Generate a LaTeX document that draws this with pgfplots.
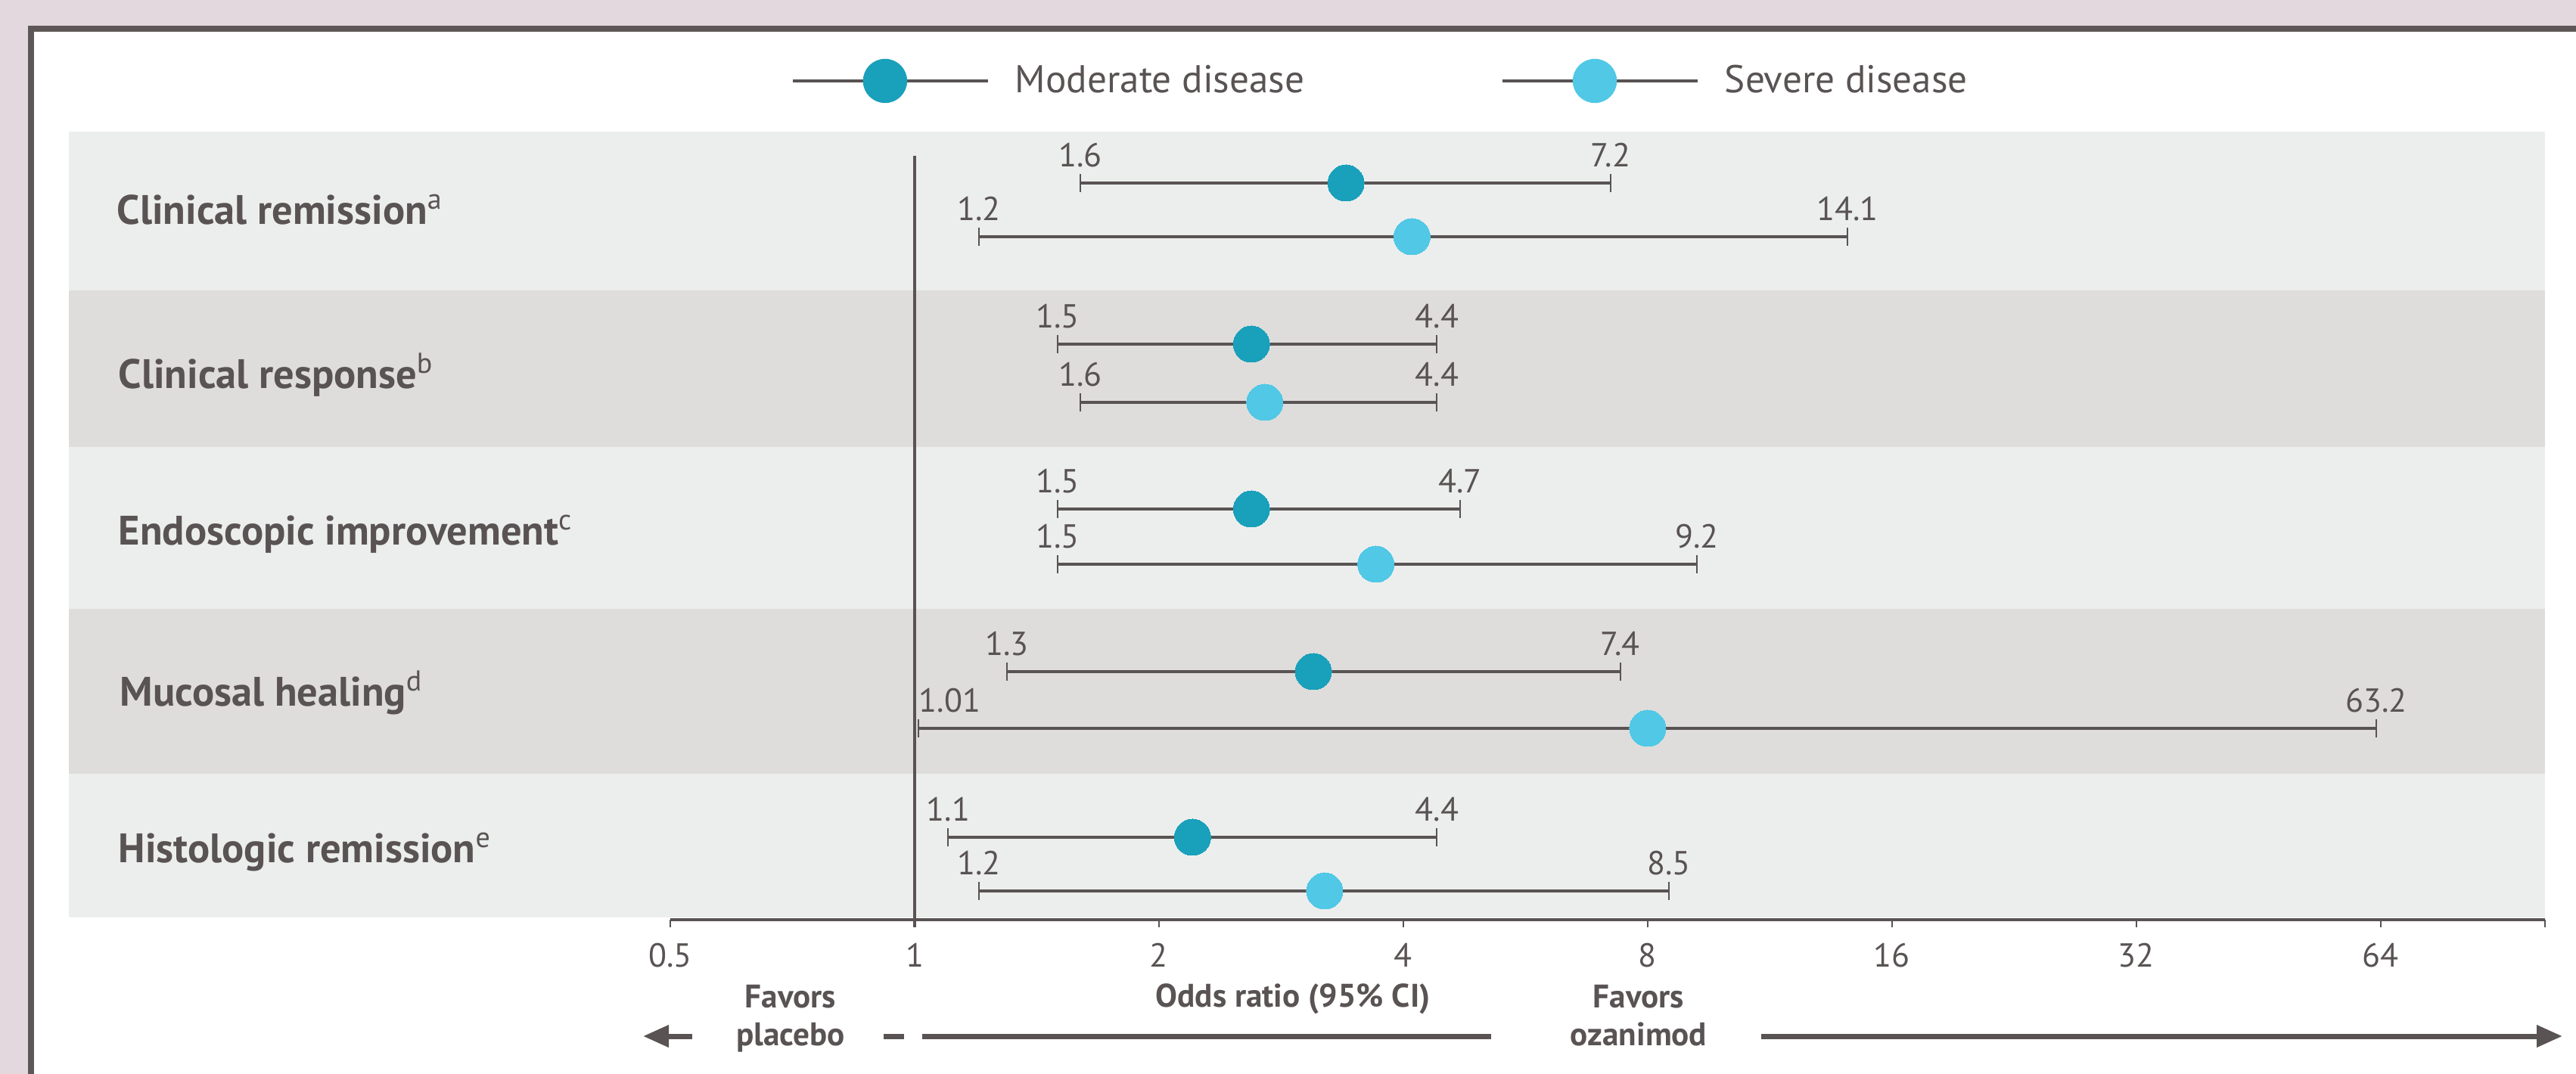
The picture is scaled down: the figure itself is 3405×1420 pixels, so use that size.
\documentclass[border=0pt]{standalone}
\usepackage{fontspec}
\setmainfont{PT Sans}
\usepackage{pgfplots}
\usepackage{pgfplotstable}
\pgfplotsset{compat=1.18}
\usetikzlibrary{arrows.meta}

\definecolor{outerbg}{HTML}{E2D8DE}
\definecolor{framec}{HTML}{5E5757}
\definecolor{txt}{HTML}{595353}
\definecolor{bandA}{HTML}{ECEEED}
\definecolor{bandB}{HTML}{DEDDDB}
\definecolor{moder}{HTML}{19A0BB}
\definecolor{sever}{HTML}{50C8E6}

\newcommand{\cifont}{\fontsize{11}{13}\selectfont}
\newcommand{\rowfont}{\fontsize{13.6}{15}\selectfont\bfseries}
\newcommand{\botfont}{\fontsize{10.8}{12.5}\selectfont\bfseries}
\newcommand{\note}[1]{\textsuperscript{\mdseries #1}}

% point estimates (odds ratio) and vertical slot of each row
\pgfplotstableread{
est y
3.4 1178
2.6 965
2.6 747
3.1 532
2.2 313
}\moderate
\pgfplotstableread{
est y
4.1 1107
2.7 888
3.7 674
8.0 457
3.2 242
}\severe

\begin{document}
\begin{tikzpicture}
\begin{scope}[x=0.25pt,y=-0.25pt]
  % page background and frame
  \fill[outerbg] (0,0) rectangle (3405,1420);
  \fill[framec] (37,34) rectangle (3405,1420);
  \fill[white] (45,42) rectangle (3405,1420);
  % alternating row bands
  \fill[bandA] (91,174) rectangle (3364,384);
  \fill[bandB] (91,384) rectangle (3364,591);
  \fill[bandA] (91,591) rectangle (3364,805);
  \fill[bandB] (91,805) rectangle (3364,1023);
  \fill[bandA] (91,1023) rectangle (3364,1213);
  % outcome labels
  \begin{scope}[every node/.style={anchor=base west, inner sep=0pt, text=txt, font=\rowfont}]
    \node at (154,297) {Clinical remission\note{a}};
    \node at (156,514) {Clinical response\note{b}};
    \node at (156,721) {Endoscopic improvement\note{c}};
    \node at (158,934) {Mucosal healing\note{d}};
    \node at (156,1141) {Histologic remission\note{e}};
  \end{scope}
  % axis caption and direction arrows
  \begin{scope}[every node/.style={anchor=base, inner sep=0pt, text=txt, font=\botfont, align=center}]
    \node at (1709,1332) {Odds ratio (95\% CI)};
    \node at (1045,1382) {Favors\\placebo};
    \node at (2166,1382) {Favors\\ozanimod};
  \end{scope}
  \draw[txt, line width=1.75pt, -{Triangle[length=8.5pt,width=7pt]}] (915,1370) -- (850,1370);
  \fill[txt] (1168,1366.5) rectangle (1195,1373.5);
  \draw[txt, line width=1.75pt] (1219,1370) -- (1971,1370);
  \draw[txt, line width=1.75pt, -{Triangle[length=8.5pt,width=7pt]}] (2328,1370) -- (3387,1370);
\end{scope}

\begin{axis}[
  at={(221.5pt,-304pt)}, anchor=south west,
  scale only axis, width=619.5pt, height=260.5pt,
  xmode=log, xmin=0.5, xmax=102, ymin=204, ymax=1246,
  axis x line=bottom, axis y line=none,
  axis line style={txt, line width=1pt, -},
  xtick={0.5,1,2,4,8,16,32,64},
  xticklabels={0.5,1,2,4,8,16,32,64},
  extra x ticks={102}, extra x tick labels={},
  tick align=outside, major tick length=2.5pt,
  tick style={txt, line width=0.6pt},
  xticklabel style={font=\cifont, text=txt, inner sep=0pt, anchor=north, yshift=-5pt},
  clip=false,
  ci/.style={draw=txt, line width=0.9pt, mark=|, mark size=3pt,
    mark options={line width=0.5pt, draw=txt}, forget plot,
    point meta=explicit symbolic, nodes near coords={\pgfplotspointmeta},
    every node near coord/.append style={font=\cifont, text=txt, anchor=south, inner sep=0pt, yshift=5pt}},
  legend style={at={(0.0646,1.0643)}, anchor=west, draw=none, fill=none,
    inner sep=0pt, outer sep=0pt, nodes={inner sep=0pt},
    font=\fontsize{12.8}{15}\selectfont, text=txt, cells={anchor=west},
    /tikz/every odd column/.append style={column sep=8.5pt},
    /tikz/every even column/.append style={column sep=65pt}},
  legend columns=2,
]
  % null line at OR = 1
  \draw[txt, line width=0.8pt] (axis cs:1,1214) -- (axis cs:1,194);

  % 95% confidence intervals
  \addplot[ci] coordinates {(1.6,1178) [1.6] (7.2,1178) [7.2]};
  \addplot[ci] coordinates {(1.2,1107) [1.2] (14.1,1107) [14.1]};
  \addplot[ci] coordinates {(1.5,965) [1.5] (4.4,965) [4.4]};
  \addplot[ci] coordinates {(1.6,888) [1.6] (4.4,888) [4.4]};
  \addplot[ci] coordinates {(1.5,747) [1.5] (4.7,747) [4.7]};
  \addplot[ci] coordinates {(1.5,674) [1.5] (9.2,674) [9.2]};
  \addplot[ci] coordinates {(1.3,532) [1.3] (7.4,532) [7.4]};
  \addplot[ci, nodes near coords=\empty] coordinates {(1.01,457) (63.2,457)};
  \addplot[draw=none, mark=none, forget plot, point meta=explicit symbolic,
    nodes near coords={\pgfplotspointmeta},
    every node near coord/.append style={font=\cifont, text=txt, anchor=south, inner sep=0pt, yshift=5pt}]
    coordinates {(63.2,457) [63.2]};
  \addplot[draw=none, mark=none, forget plot, point meta=explicit symbolic,
    nodes near coords={\pgfplotspointmeta},
    every node near coord/.append style={font=\cifont, text=txt, anchor=south, inner sep=0pt, yshift=5pt, xshift=10.5pt}]
    coordinates {(1.01,457) [1.01]};
  \addplot[ci] coordinates {(1.1,313) [1.1] (4.4,313) [4.4]};
  \addplot[ci] coordinates {(1.2,242) [1.2] (8.5,242) [8.5]};

  % point estimates
  \addplot[only marks, mark=*, mark size=6pt,
    mark options={fill=moder, draw=moder, line width=0pt},
    legend image code/.code={\draw[txt, line width=0.9pt] (0pt,0pt) -- (64.5pt,0pt);
      \fill[moder] (30.5pt,0pt) circle (7.1pt);}]
    table[x=est, y=y] {\moderate};
  \addlegendentry{Moderate disease}
  \addplot[only marks, mark=*, mark size=6pt,
    mark options={fill=sever, draw=sever, line width=0pt},
    legend image code/.code={\draw[txt, line width=0.9pt] (0pt,0pt) -- (64.5pt,0pt);
      \fill[sever] (30.5pt,0pt) circle (7.1pt);}]
    table[x=est, y=y] {\severe};
  \addlegendentry{Severe disease}
\end{axis}
\end{tikzpicture}
\end{document}
